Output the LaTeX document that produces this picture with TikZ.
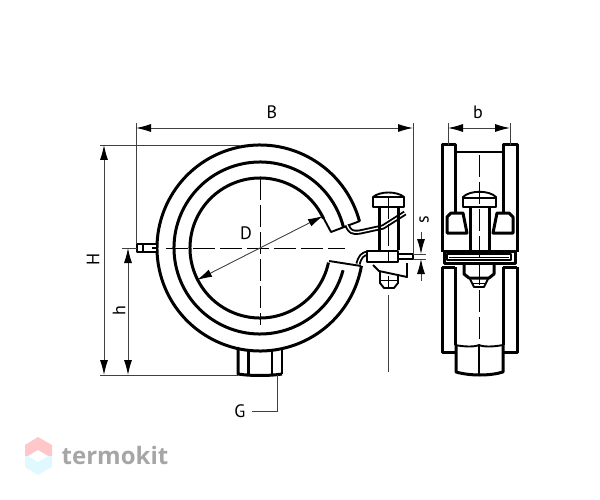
\documentclass[tikz,border=0pt]{standalone}
\usepackage{fontspec}
\setmainfont{PT Sans}
\newfontfamily\logofont{Open Sans}
\usetikzlibrary{arrows.meta}
\tikzset{
  heavy/.style={line width=3pt,line join=round},
  medium/.style={line width=1.9pt,line join=round},
  dimline/.style={line width=0.9pt,draw=black!75,{Latex[length=15pt,width=8pt,black]}-{Latex[length=15pt,width=8pt,black]}},
  arrowline/.style={line width=0.9pt,draw=black!75,-{Latex[length=15pt,width=8pt,black]}},
  thinline/.style={line width=0.9pt,draw=black!75},
  axis/.style={line width=1pt,dash pattern=on 22pt off 5pt},
  strap/.style={line width=1.9pt,double=white,double distance=1.3pt,line join=round},
  dimlabel/.style={font=\fontsize{18}{18}\selectfont}
}
\begin{document}
\begin{tikzpicture}[x=1pt,y=-1pt]
  \useasboundingbox (0,0) rectangle (600,500);
  \coordinate (ring) at (260,248);
  % watermark
  \fill[fill=red!22!white] (38,437) -- (52,445) -- (52,456) -- (25,456) -- (25,445) --cycle;
  \fill[fill=blue!22!cyan!12!white] (25,456) -- (52,456) -- (52,467) -- (38,475) -- (25,467) --cycle;
  \fill[white] (28,456) -- (38,450) -- (48,456) -- (38,462) --cycle;
  \node[text=black!35,font=\logofont\bfseries\fontsize{24}{24}\selectfont] (logo) at (115,455) {termokit};
  % clamp, front view
  \draw[heavy] ([shift={(15:103pt)}]ring) arc[start angle=15,end angle=350,radius=103pt];
  \draw[heavy] ([shift={(14:86pt)}]ring) arc[start angle=14,end angle=345,radius=86pt];
  \draw[heavy] ([shift={(25:70pt)}]ring) arc[start angle=25,end angle=348,radius=70pt];
  \draw[medium] (323,217) -- (331,232) -- (360,221);
  \draw[medium] (329,261) -- (361,266);
  % straps
  \draw[strap] (347,225) .. controls (350,232) and (352,233) .. (360,232) -- (383,227) -- (405,213);
  \draw[strap] (358,264) .. controls (360,257) and (362,254) .. (368,253);
  % screw
  \draw[heavy,fill=white] (379,207) -- (379,250) (398,207) -- (398,250);
  \draw[medium,fill=white] (373,207) -- (373,197) .. controls (380,191) and (397,191) .. (404,197) -- (404,207) --cycle;
  \draw[medium] (373,197) -- (404,197);
  \draw[medium,fill=white] (367,251) rectangle (398,262);
  \draw[medium,fill=white] (398,254) rectangle (413,259);
  \draw[medium] (373,265) -- (379,271) -- (407,277) -- (407,263);
  \draw[medium] (380,272) -- (380,283) -- (384,288) -- (394,288) -- (398,283) -- (398,274);
  \draw[thick] (380,280) -- (398,280);
  \draw[thick] (388,276) -- (388,288);
  % lug and hex socket
  \draw[medium,fill=white] (137,244) rectangle (157,252);
  \draw[medium] (143,244) -- (143,252);
  \draw[medium] (152,248) -- (157,248);
  \draw[heavy,fill=white] (238,350) -- (238,374) .. controls (250,376) and (270,376) .. (282,374);
  \draw[medium] (282,374) -- (282,350);
  \draw[heavy] (248,351) -- (248,374);
  \draw[medium] (272,351) -- (272,374);
  % side view
  \draw[heavy] (442,213) -- (442,145) -- (455,145) -- (455,213);
  \draw[heavy] (503,213) -- (503,145) -- (517,145) -- (517,213);
  \draw[medium] (455,152) -- (503,152);
  \draw[heavy] (447,233) -- (447,217) -- (451,213) -- (463,213) -- (467,233) --cycle;
  \draw[heavy] (513,233) -- (513,217) -- (509,213) -- (497,213) -- (493,233) --cycle;
  \draw[heavy] (442,213) -- (442,252);
  \draw[heavy] (517,213) -- (517,252);
  \draw[medium] (463,207) -- (463,197) .. controls (470,190) and (489,190) .. (496,197) -- (496,207) --cycle;
  \draw[medium] (463,198) -- (496,198);
  \draw[heavy] (470,207) -- (470,252);
  \draw[heavy] (489,207) -- (489,252);
  \draw[heavy] (444,251) rectangle (515,263);
  \draw[medium,fill=white] (447,254) rectangle (511,260);
  \draw[thick] (449,257) -- (509,257);
  \draw[heavy] (464,263) -- (464,274) -- (469,278) -- (489,278) -- (494,274) -- (494,263);
  \draw[medium] (470,279) -- (474,287) -- (484,287) -- (488,279);
  \draw[thick] (472,283) -- (486,283);
  \draw[heavy] (442,267) -- (442,352) -- (456,352);
  \draw[heavy] (455,267) -- (442,267);
  \draw[heavy] (517,267) -- (517,352) -- (503,352);
  \draw[heavy] (503,267) -- (517,267);
  \draw[heavy] (455,267) -- (455,345);
  \draw[heavy] (503,267) -- (503,345);
  \draw[medium] (455,345) .. controls (465,347) and (475,347) .. (479,345) .. controls (483,347) and (493,347) .. (503,345);
  \draw[heavy] (456,345) -- (456,372) .. controls (470,376) and (490,376) .. (503,372) -- (503,345);
  \draw[medium] (479,345) -- (479,374);
  % centre lines
  \draw[axis] (260,178) -- (260,325);
  \draw[axis] (166,248) -- (345,248);
  \draw[thinline] (122,248) -- (137,248);
  \draw[axis] (388,197) -- (388,262);
  \draw[axis] (479,155) -- (479,345);
  % dimensions
  \coordinate (Bl) at (136,128);
  \coordinate (Br) at (413,128);
  \coordinate (bl) at (448,128);
  \coordinate (br) at (510,128);
  \coordinate (Ht) at (104,145);
  \coordinate (Hb) at (104,375);
  \coordinate (hc) at (128,248);
  \coordinate (hb) at (128,375);
  \coordinate (Dl) at (197,280);
  \coordinate (Dr) at (323,216);
  \draw[thinline] (136,123) -- (136,244);
  \draw[thinline] (413,123) -- (413,254);
  \draw[thinline] (448,123) -- (448,145);
  \draw[thinline] (510,123) -- (510,145);
  \draw[thinline] (100,145) -- (240,145);
  \draw[thinline] (100,375) -- (238,375);
  \draw[dimline] (Bl) -- (Br);
  \draw[dimline] (bl) -- (br);
  \draw[dimline] (Ht) -- (Hb);
  \draw[dimline] (hc) -- (hb);
  \draw[dimline] (Dl) -- (Dr);
  % s gap
  \coordinate (sa) at (421,232);
  \coordinate (sb) at (421,254);
  \coordinate (sc) at (421,281);
  \coordinate (sd) at (421,259);
  \draw[thinline] (413,254) -- (426,254);
  \draw[thinline] (413,259) -- (426,259);
  \draw[arrowline] (sa) -- (sb);
  \draw[arrowline] (sc) -- (sd);
  % leaders
  \draw[thinline] (388,295) -- (388,372);
  \node[dimlabel] (G) at (240,411) {G};
  \coordinate (Gtop) at (277,375);
  \draw[thinline] (G.east) ++(3pt,0) -| (Gtop);
  % labels
  \node[dimlabel] (B) at (272,112) {B};
  \node[dimlabel] (b) at (478,112) {b};
  \node[dimlabel,rotate=90] (H) at (93,259) {H};
  \node[dimlabel,rotate=90] (h) at (119,311) {h};
  \node[dimlabel] (D) at (246,233) {D};
  \node[dimlabel,rotate=90] (s) at (424,220) {s};
\end{tikzpicture}
\end{document}
